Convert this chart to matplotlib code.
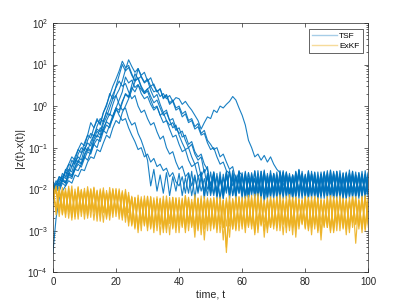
import numpy as np
import matplotlib
matplotlib.use("Agg")
import matplotlib.pyplot as plt
from matplotlib.lines import Line2D
from matplotlib.ticker import FixedLocator, NullFormatter

# ---------------- data ----------------
tsf_1 = [0.012,0.009,0.015,0.021,0.018,0.03,0.026,0.045,0.06,0.05,
 0.09,0.13,0.11,0.2,0.28,0.24,0.45,0.7,0.6,1.1,
 1.8,2.5,4.0,7.5,13,9.0,6.5,8.0,5.0,3.6,
 4.2,2.4,1.6,1.9,1.1,0.7,0.8,0.45,0.3,0.35,
 0.2,0.13,0.09,0.1,0.06,0.04,0.045,0.02,0.03,0.01,
 0.015,0.007,0.024,0.006,0.019,0.008,0.027,0.007,0.02,0.009,
 0.025,0.006,0.018,0.008,0.028,0.007,0.021,0.005,0.017,0.009,
 0.023,0.007,0.026,0.008,0.019,0.006,0.022,0.009,0.03,0.007,
 0.018,0.008,0.024,0.006,0.021,0.009,0.027,0.007,0.016,0.008,
 0.025,0.006,0.02,0.008,0.029,0.007,0.018,0.009,0.023,0.006,0.019]
tsf_2 = [0.008,0.011,0.01,0.016,0.014,0.025,0.022,0.035,0.05,0.042,
 0.07,0.1,0.085,0.16,0.25,0.2,0.38,0.55,0.9,1.5,
 3.0,5.5,10,7.0,8.5,5.5,4.0,4.8,3.0,2.2,
 2.6,1.7,1.2,1.4,0.9,0.6,0.7,0.45,0.5,0.3,
 0.22,0.25,0.15,0.1,0.12,0.07,0.05,0.06,0.025,0.035,
 0.009,0.024,0.007,0.019,0.006,0.026,0.008,0.021,0.007,0.028,
 0.008,0.02,0.006,0.023,0.009,0.017,0.007,0.029,0.006,0.022,
 0.009,0.026,0.007,0.018,0.008,0.024,0.006,0.02,0.009,0.027,
 0.007,0.021,0.008,0.025,0.006,0.019,0.009,0.028,0.007,0.022,
 0.008,0.018,0.006,0.024,0.009,0.027,0.007,0.02,0.008,0.023,0.007]
tsf_3 = [0.01,0.014,0.012,0.018,0.015,0.022,0.02,0.03,0.028,0.04,
 0.06,0.05,0.08,0.12,0.1,0.18,0.26,0.22,0.35,0.5,
 0.8,0.7,1.2,2.0,1.7,3.2,6.0,4.5,5.2,3.8,
 4.5,3.0,3.4,2.2,2.6,1.6,1.9,1.2,1.4,0.9,
 1.0,0.65,0.75,0.45,0.5,0.32,0.38,0.22,0.26,0.15,
 0.12,0.09,0.1,0.06,0.07,0.045,0.03,0.035,0.016,0.026,
 0.022,0.008,0.018,0.007,0.027,0.009,0.02,0.006,0.024,0.008,
 0.019,0.006,0.028,0.009,0.021,0.007,0.017,0.008,0.025,0.006,
 0.023,0.009,0.02,0.007,0.026,0.008,0.018,0.006,0.029,0.009,
 0.021,0.007,0.024,0.008,0.019,0.006,0.022,0.009,0.027,0.007,0.02]
tsf_4 = [0.011,0.013,0.02,0.017,0.03,0.026,0.05,0.04,0.07,0.1,
 0.085,0.15,0.22,0.19,0.33,0.5,0.42,0.75,1.2,1.9,
 2.8,4.0,3.0,3.5,2.2,1.5,1.8,1.0,0.7,0.8,
 0.5,0.35,0.4,0.24,0.16,0.19,0.1,0.07,0.08,0.045,
 0.03,0.036,0.02,0.025,0.012,0.022,0.008,0.019,0.007,0.024,
 0.009,0.026,0.006,0.02,0.008,0.023,0.007,0.028,0.009,0.018,
 0.006,0.025,0.008,0.021,0.007,0.019,0.009,0.027,0.006,0.022,
 0.008,0.018,0.007,0.024,0.009,0.02,0.006,0.026,0.008,0.021,
 0.007,0.028,0.009,0.017,0.006,0.023,0.008,0.02,0.007,0.025,
 0.009,0.022,0.006,0.019,0.008,0.027,0.007,0.021,0.009,0.018,0.007]
tsf_5 = [0.009,0.012,0.011,0.017,0.014,0.024,0.02,0.033,0.045,0.04,
 0.065,0.09,0.08,0.14,0.2,0.17,0.3,0.42,0.36,0.6,
 0.9,0.8,1.3,1.9,1.6,2.8,2.2,3.2,2.5,2.0,
 2.6,3.0,2.2,2.4,1.7,2.0,1.5,1.8,1.3,1.6,
 1.5,1.1,1.3,1.0,0.8,0.6,0.45,0.28,0.4,0.55,
 0.5,0.8,0.7,1.0,0.9,1.1,1.3,1.7,1.4,0.9,
 0.6,0.35,0.15,0.1,0.06,0.07,0.05,0.065,0.045,0.06,
 0.04,0.03,0.025,0.012,0.024,0.008,0.02,0.007,0.026,0.009,
 0.022,0.006,0.027,0.008,0.019,0.007,0.023,0.009,0.028,0.006,
 0.02,0.008,0.025,0.006,0.018,0.009,0.026,0.007,0.021,0.008,0.024]
tsf_6 = [0.013,0.01,0.018,0.015,0.028,0.04,0.035,0.06,0.09,0.075,
 0.13,0.2,0.17,0.3,0.45,0.38,0.7,1.0,2.0,1.5,
 1.8,1.1,0.8,0.9,0.5,0.35,0.4,0.22,0.15,0.09,
 0.05,0.012,0.03,0.009,0.022,0.008,0.025,0.007,0.02,0.009,
 0.024,0.007,0.019,0.008,0.027,0.006,0.021,0.009,0.018,0.007,
 0.026,0.008,0.02,0.006,0.023,0.009,0.028,0.007,0.019,0.008,
 0.022,0.006,0.025,0.009,0.018,0.007,0.027,0.008,0.021,0.006,
 0.024,0.009,0.019,0.007,0.026,0.008,0.022,0.006,0.029,0.009,
 0.02,0.007,0.023,0.008,0.018,0.006,0.025,0.009,0.021,0.007,
 0.027,0.008,0.019,0.006,0.024,0.009,0.022,0.007,0.02,0.008,0.026]
tsf_7 = [0.007,0.01,0.009,0.014,0.012,0.02,0.018,0.03,0.04,0.034,
 0.055,0.08,0.07,0.12,0.16,0.14,0.25,0.35,0.3,0.55,
 0.9,0.6,0.45,0.5,0.3,0.2,0.14,0.09,0.1,0.06,
 0.07,0.045,0.055,0.035,0.04,0.028,0.032,0.02,0.025,0.015,
 0.012,0.02,0.008,0.024,0.007,0.019,0.009,0.026,0.006,0.021,
 0.008,0.023,0.007,0.018,0.009,0.027,0.006,0.02,0.008,0.025,
 0.007,0.022,0.009,0.019,0.006,0.028,0.008,0.021,0.007,0.024,
 0.009,0.018,0.006,0.025,0.008,0.02,0.007,0.027,0.009,0.022,
 0.006,0.024,0.008,0.019,0.007,0.026,0.009,0.021,0.006,0.023,
 0.008,0.028,0.007,0.02,0.009,0.022,0.006,0.025,0.008,0.019,0.007]
tsf_8 = [0.015,0.012,0.02,0.018,0.026,0.022,0.035,0.05,0.045,0.07,
 0.1,0.085,0.14,0.2,0.18,0.3,0.26,0.45,0.65,0.55,
 0.9,1.4,2.2,5.0,3.6,4.2,2.8,3.3,2.0,1.5,
 1.7,1.1,0.8,0.95,0.6,0.7,0.45,0.35,0.4,0.26,
 0.3,0.18,0.2,0.12,0.14,0.08,0.06,0.07,0.04,0.03,
 0.012,0.026,0.009,0.02,0.007,0.024,0.008,0.019,0.006,0.027,
 0.009,0.021,0.007,0.025,0.008,0.018,0.006,0.023,0.009,0.028,
 0.007,0.02,0.008,0.026,0.006,0.022,0.009,0.019,0.007,0.024,
 0.008,0.027,0.006,0.021,0.009,0.018,0.007,0.025,0.008,0.02,
 0.006,0.023,0.009,0.026,0.007,0.019,0.008,0.022,0.006,0.028,0.008]
tsf_9 = [0.0003,0.002,0.006,0.009,0.012,0.016,0.014,0.022,0.02,0.03,
 0.028,0.045,0.06,0.055,0.09,0.08,0.13,0.2,0.17,0.3,
 0.45,0.38,0.7,1.0,1.5,2.4,3.8,8.0,5.5,6.5,
 4.0,4.8,3.0,2.2,2.6,1.5,1.8,1.1,1.3,0.8,
 0.9,0.55,0.65,0.4,0.45,0.28,0.32,0.2,0.22,0.13,
 0.09,0.1,0.06,0.04,0.045,0.028,0.024,0.012,0.022,0.008,
 0.02,0.007,0.025,0.009,0.018,0.006,0.027,0.008,0.021,0.007,
 0.024,0.009,0.019,0.006,0.026,0.008,0.022,0.007,0.028,0.009,
 0.018,0.006,0.023,0.008,0.02,0.007,0.025,0.009,0.019,0.006,
 0.027,0.008,0.021,0.007,0.024,0.009,0.018,0.006,0.022,0.008,0.025]
tsf_10 = [0.01,0.016,0.013,0.024,0.02,0.04,0.06,0.05,0.09,0.13,
 0.11,0.2,0.4,0.3,0.5,0.35,0.7,1.1,1.8,3.0,
 4.5,7.0,12,8.5,9.5,6.0,4.0,4.6,2.8,2.0,
 2.3,1.4,0.9,1.0,0.6,0.4,0.45,0.28,0.18,0.2,
 0.12,0.08,0.09,0.05,0.035,0.04,0.02,0.025,0.009,0.022,
 0.007,0.019,0.008,0.026,0.006,0.021,0.009,0.024,0.007,0.018,
 0.008,0.027,0.006,0.02,0.009,0.023,0.007,0.025,0.008,0.019,
 0.006,0.022,0.009,0.028,0.007,0.02,0.008,0.024,0.006,0.021,
 0.009,0.018,0.007,0.026,0.008,0.023,0.006,0.019,0.009,0.027,
 0.007,0.021,0.008,0.024,0.006,0.02,0.009,0.025,0.007,0.022,0.009]

exkf_1 = [0.011,0.003,0.0095,0.0025,0.0085,0.0032,0.012,0.0022,0.009,0.0028,
 0.0105,0.002,0.008,0.0033,0.0095,0.0024,0.0088,0.0019,0.011,0.003,
 0.0078,0.0026,0.0092,0.0021,0.0084,0.0015,0.0062,0.0012,0.0055,0.0016,
 0.0068,0.0011,0.0052,0.0014,0.0058,0.0009,0.0049,0.0017,0.0063,0.0012,
 0.0054,0.0015,0.0071,0.001,0.0048,0.0013,0.0059,0.0008,0.0052,0.0016,
 0.0061,0.0012,0.0047,0.0014,0.0056,0.0004,0.005,0.0011,0.0066,0.0015,
 0.0053,0.0009,0.0072,0.0013,0.0049,0.0017,0.0058,0.001,0.0062,0.0012,
 0.0047,0.0016,0.0055,0.0008,0.0068,0.0013,0.0051,0.0011,0.0059,0.0014,
 0.0064,0.001,0.0049,0.0015,0.0057,0.0006,0.0053,0.0012,0.007,0.0009,
 0.0052,0.0014,0.0061,0.0011,0.0048,0.0016,0.0066,0.0013,0.0055,0.001,0.0063]
exkf_2 = [0.0065,0.012,0.0028,0.0098,0.0021,0.0105,0.003,0.0082,0.0019,0.0095,
 0.0026,0.0115,0.0034,0.0087,0.0017,0.0102,0.0029,0.0079,0.0023,0.0092,
 0.0031,0.0085,0.0018,0.0099,0.0027,0.0064,0.0013,0.0058,0.001,0.0069,
 0.0015,0.0051,0.0012,0.0066,0.0008,0.0056,0.0014,0.0048,0.0011,0.0062,
 0.0016,0.0053,0.0009,0.0059,0.0013,0.0074,0.0011,0.005,0.0015,0.0057,
 0.001,0.0064,0.0014,0.0049,0.0012,0.0055,0.0007,0.006,0.0016,0.0052,
 0.0011,0.0068,0.0013,0.0054,0.0009,0.0061,0.0015,0.0047,0.0012,0.0058,
 0.0014,0.0063,0.001,0.0051,0.0016,0.0057,0.0008,0.0065,0.0013,0.0049,
 0.0012,0.0056,0.0015,0.0062,0.001,0.0053,0.0013,0.0048,0.0009,0.0067,
 0.0016,0.005,0.0011,0.0059,0.0014,0.0064,0.0005,0.0054,0.0012,0.0061,0.0014]
exkf_3 = [0.013,0.0024,0.0088,0.0035,0.0105,0.002,0.0092,0.0027,0.0115,0.0022,
 0.0085,0.0031,0.0098,0.0018,0.009,0.0028,0.0108,0.0021,0.0083,0.0026,
 0.0096,0.0019,0.0081,0.0029,0.0072,0.0014,0.0059,0.0011,0.0066,0.0013,
 0.0055,0.0016,0.0062,0.001,0.0051,0.0012,0.0069,0.0015,0.0048,0.0009,
 0.0063,0.0013,0.0055,0.0016,0.0049,0.0007,0.0057,0.0012,0.0067,0.0014,
 0.005,0.0011,0.0059,0.0015,0.0054,0.0003,0.0048,0.0013,0.0061,0.001,
 0.0057,0.0014,0.0063,0.0011,0.0076,0.0009,0.0052,0.0016,0.0049,0.0012,
 0.0061,0.001,0.0054,0.0014,0.0047,0.0012,0.0064,0.0007,0.0056,0.0015,
 0.005,0.0013,0.0066,0.0011,0.0059,0.0016,0.0048,0.0012,0.0062,0.001,
 0.0057,0.0015,0.0049,0.0008,0.0064,0.0012,0.0053,0.0014,0.0068,0.0011,0.0056]
exkf_4 = [0.0058,0.0095,0.0022,0.011,0.0031,0.0088,0.0018,0.0101,0.0026,0.0083,
 0.0033,0.0096,0.0021,0.0112,0.0027,0.0085,0.0016,0.0093,0.003,0.0104,
 0.0022,0.0091,0.0025,0.0077,0.0016,0.0068,0.0012,0.0061,0.0015,0.0054,
 0.001,0.0067,0.0013,0.0058,0.0015,0.005,0.0009,0.0063,0.0012,0.0055,
 0.0014,0.0061,0.0011,0.0052,0.0016,0.0058,0.001,0.0069,0.0006,0.0054,
 0.0013,0.0059,0.0009,0.0065,0.0012,0.0051,0.0015,0.0056,0.0011,0.0063,
 0.0016,0.0049,0.0012,0.0071,0.0008,0.0057,0.0014,0.0052,0.0011,0.0066,
 0.0013,0.0055,0.0016,0.0062,0.0009,0.0074,0.0012,0.005,0.0015,0.0058,
 0.0011,0.0064,0.0008,0.0053,0.0014,0.0059,0.0012,0.0067,0.001,0.0051,
 0.0015,0.0062,0.0012,0.0056,0.0009,0.0066,0.0014,0.005,0.0011,0.0072,0.0012]
exkf_5 = [0.0092,0.0033,0.0115,0.0024,0.0089,0.0029,0.0097,0.0019,0.0108,0.0032,
 0.0091,0.0023,0.0103,0.0028,0.0081,0.0017,0.0094,0.0025,0.0087,0.0021,
 0.0104,0.0027,0.0083,0.0016,0.0069,0.0013,0.0064,0.0009,0.0058,0.0014,
 0.0066,0.0012,0.0053,0.0016,0.0061,0.0011,0.0056,0.0008,0.0064,0.0013,
 0.0051,0.0012,0.0068,0.0015,0.0057,0.0011,0.0062,0.0014,0.0049,0.001,
 0.0058,0.0015,0.0063,0.0009,0.0052,0.0013,0.0069,0.0011,0.0055,0.0016,
 0.0064,0.0012,0.0051,0.0015,0.0059,0.0011,0.0066,0.0007,0.0054,0.0014,
 0.0058,0.0012,0.0073,0.0015,0.005,0.001,0.0061,0.0013,0.0055,0.0016,
 0.0068,0.0011,0.0054,0.0014,0.0063,0.0009,0.0057,0.0015,0.0049,0.0012,
 0.0065,0.001,0.0058,0.0013,0.0052,0.0016,0.006,0.0011,0.0064,0.0014,0.0059]
exkf_6 = [0.0075,0.0108,0.0034,0.0093,0.0025,0.0118,0.0021,0.0086,0.0033,0.0099,
 0.0019,0.0089,0.0031,0.0106,0.0024,0.0093,0.0027,0.0082,0.0018,0.0097,
 0.0028,0.0102,0.0021,0.0087,0.0013,0.0063,0.0011,0.0072,0.0016,0.0059,
 0.0012,0.0064,0.0009,0.0057,0.0014,0.0068,0.0011,0.0052,0.0016,0.0061,
 0.0009,0.0056,0.0014,0.0064,0.0012,0.0051,0.0016,0.0058,0.0011,0.0062,
 0.0015,0.0053,0.0011,0.0058,0.0006,0.0062,0.0013,0.0049,0.001,0.0067,
 0.0013,0.0056,0.0016,0.0062,0.0011,0.0078,0.0013,0.0055,0.0009,0.0059,
 0.0011,0.0066,0.0014,0.0052,0.0012,0.0058,0.0016,0.0063,0.0011,0.0054,
 0.0016,0.0059,0.0012,0.0068,0.0009,0.0055,0.0014,0.0061,0.0012,0.0057,
 0.001,0.0069,0.0014,0.0052,0.0011,0.0063,0.0015,0.0058,0.0009,0.0065,0.0015]

tsf_runs = [tsf_1, tsf_2, tsf_3, tsf_4, tsf_5, tsf_6, tsf_7, tsf_8, tsf_9, tsf_10]
exkf_runs = [exkf_1, exkf_2, exkf_3, exkf_4, exkf_5, exkf_6]
t_start, t_end = 0, 100
legend_labels = ["TSF", "ExKF"]
xticks = [0, 20, 40, 60, 80, 100]
yticks = [1e-4, 1e-3, 1e-2, 1e-1, 1e0, 1e1, 1e2]

# ---------------- styling ----------------
plt.rcParams['font.family'] = ['Liberation Sans', 'DejaVu Sans']
BLUE = "#0072BD"
YELLOW = "#EDB120"
AXC = "#262626"

fig = plt.figure(figsize=(4.07, 3.06), dpi=100)
ax = fig.add_axes([0.13, 0.11, 0.775, 0.815])

for run in tsf_runs:
    t = np.linspace(t_start, t_end, len(run))
    ax.plot(t, run, color=BLUE, lw=0.8, alpha=0.9)
for run in exkf_runs:
    t = np.linspace(t_start, t_end, len(run))
    ax.plot(t, run, color=YELLOW, lw=0.85, alpha=0.9)

ax.set_yscale('log')
ax.set_xlim(0, 100)
ax.set_ylim(1e-4, 1e2)
ax.set_xticks(xticks)
ax.xaxis.set_minor_locator(plt.NullLocator())
ax.yaxis.set_major_locator(FixedLocator(yticks))
minor = [m * d for d in yticks[:-1] for m in range(2, 10)]
ax.yaxis.set_minor_locator(FixedLocator(minor))
ax.yaxis.set_minor_formatter(NullFormatter())

ax.tick_params(which='both', direction='in', top=True, right=True,
               colors=AXC, labelsize=7, width=0.5)
ax.tick_params(which='major', length=3)
ax.tick_params(which='minor', length=1.6)
ax.tick_params(axis='x', pad=3)
for s in ax.spines.values():
    s.set_color(AXC)
    s.set_linewidth(0.5)

ax.set_xlabel("time, t", fontsize=7.7, color=AXC, labelpad=2)
ax.set_ylabel("|z(t)-x(t)|", fontsize=7.7, color=AXC, labelpad=2)

handles = [Line2D([0], [0], color=BLUE, lw=1.0, alpha=0.35),
           Line2D([0], [0], color=YELLOW, lw=1.0, alpha=0.45)]
leg = ax.legend(handles, legend_labels, loc='upper right', fontsize=6.0,
                frameon=True, fancybox=False, framealpha=1, edgecolor=AXC,
                handlelength=3.0, handletextpad=0.3, borderpad=0.35,
                labelspacing=0.3, borderaxespad=0.7)
leg.get_frame().set_linewidth(0.5)

fig.savefig("out.png", dpi=100)
